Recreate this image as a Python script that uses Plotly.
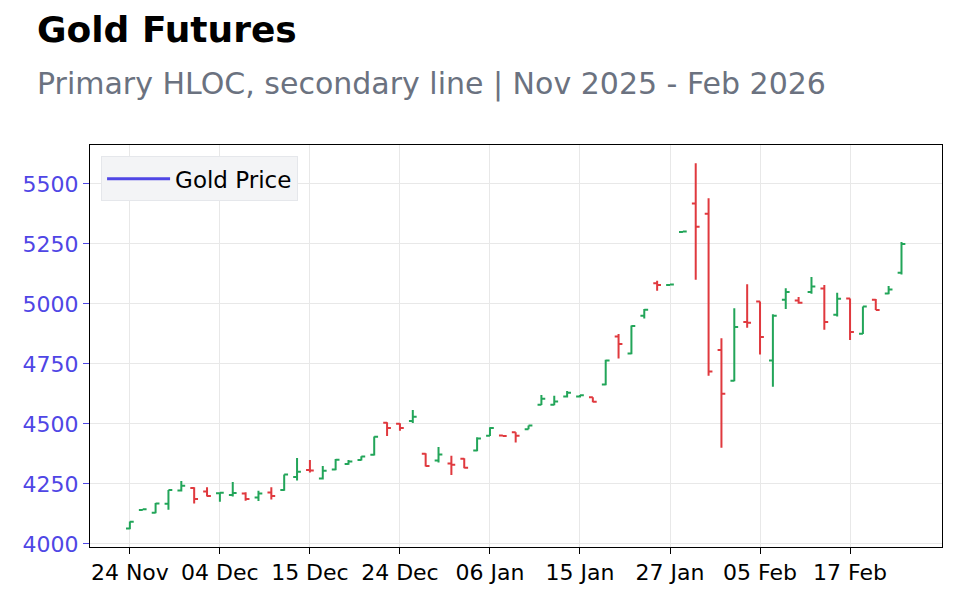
import plotly.graph_objects as go

dates = ["24 Nov", "25 Nov", "26 Nov", "28 Nov", "01 Dec", "02 Dec", "03 Dec", "04 Dec", "05 Dec",
         "08 Dec", "09 Dec", "10 Dec", "11 Dec", "12 Dec", "15 Dec", "16 Dec", "17 Dec", "18 Dec",
         "19 Dec", "22 Dec", "23 Dec", "24 Dec", "26 Dec", "29 Dec", "30 Dec", "31 Dec", "02 Jan",
         "05 Jan", "06 Jan", "07 Jan", "08 Jan", "09 Jan", "12 Jan", "13 Jan", "14 Jan", "15 Jan",
         "16 Jan", "20 Jan", "21 Jan", "22 Jan", "23 Jan", "26 Jan", "27 Jan", "28 Jan", "29 Jan",
         "30 Jan", "02 Feb", "03 Feb", "04 Feb", "05 Feb", "06 Feb", "09 Feb", "10 Feb", "11 Feb",
         "12 Feb", "13 Feb", "17 Feb", "18 Feb", "19 Feb", "20 Feb", "23 Feb"]

open_ = [4064, 4141, 4130, 4167, 4222, 4233, 4218, 4211, 4204, 4210, 4193, 4214, 4225, 4279, 4308,
         4272, 4310, 4333, 4350, 4371, 4505, 4501, 4512, 4376, 4347, 4335, 4355, 4389, 4451, 4452,
         4465, 4478, 4580, 4580, 4614, 4614, 4611, 4664, 4864, 4793, 4951, 5086, 5079, 5300, 5418,
         5376, 4808, 4680, 4925, 5010, 4764, 5017, 5014, 5050, 5064, 4955, 5022, 4876, 5017, 5043, 5130]
high = [4093, 4145, 4170, 4225, 4262, 4236, 4236, 4214, 4258, 4215, 4221, 4236, 4289, 4358, 4350,
        4325, 4354, 4350, 4365, 4447, 4507, 4503, 4558, 4378, 4404, 4367, 4357, 4444, 4486, 4453,
        4465, 4493, 4620, 4617, 4637, 4620, 4611, 4767, 4875, 4910, 4979, 5096, 5082, 5303, 5586,
        5440, 4857, 4982, 5082, 5010, 4957, 5065, 5029, 5112, 5079, 5046, 5022, 4989, 5020, 5075, 5258]
low = [4061, 4140, 4128, 4142, 4218, 4168, 4197, 4176, 4197, 4180, 4179, 4185, 4221, 4264, 4297,
       4268, 4307, 4330, 4347, 4368, 4450, 4471, 4504, 4322, 4339, 4287, 4315, 4386, 4449, 4449,
       4422, 4478, 4579, 4578, 4610, 4610, 4590, 4661, 4772, 4790, 4939, 5055, 5078, 5299, 5101,
       4701, 4401, 4678, 4901, 4789, 4655, 4979, 5001, 5042, 4892, 4947, 4850, 4874, 4974, 5040, 5122]
close = [4092, 4144, 4168, 4224, 4242, 4187, 4200, 4213, 4212, 4187, 4210, 4200, 4289, 4301, 4306,
         4305, 4351, 4343, 4364, 4446, 4483, 4483, 4530, 4325, 4372, 4330, 4317, 4439, 4483, 4450,
         4451, 4493, 4605, 4593, 4630, 4619, 4592, 4764, 4833, 4908, 4976, 5079, 5081, 5302, 5321,
         4718, 4626, 4904, 4921, 4862, 4951, 5050, 5005, 5072, 4925, 5021, 4883, 4989, 4975, 5060, 5250]

tick_labels = ["24 Nov", "04 Dec", "15 Dec", "24 Dec", "06 Jan", "15 Jan", "27 Jan", "05 Feb", "17 Feb"]
y_ticks = [4000, 4250, 4500, 4750, 5000, 5250, 5500]

TITLE = "Gold Futures"
SUBTITLE = "Primary HLOC, secondary line | Nov 2025 - Feb 2026"
PURPLE = "#4F46E5"

fig = go.Figure()
fig.add_trace(go.Ohlc(
    x=dates, open=open_, high=high, low=low, close=close,
    name="Gold Futures", showlegend=False,
    increasing=dict(line=dict(color="#22a559", width=2)),
    decreasing=dict(line=dict(color="#e0393e", width=2)),
))
fig.add_trace(go.Scatter(
    x=[None], y=[None], mode="lines", name="Gold Price",
    line=dict(color=PURPLE, width=3),
))

fig.update_layout(
    width=960, height=600,
    paper_bgcolor="white", plot_bgcolor="white",
    font=dict(family="DejaVu Sans", size=22, color="black"),
    margin=dict(l=90, r=18, t=145, b=53),
    showlegend=True,
    legend=dict(x=0.013, y=0.972, xanchor="left", yanchor="top",
                bgcolor="#F3F4F6", bordercolor="#E5E7EB", borderwidth=1,
                itemwidth=63, font=dict(size=23)),
    annotations=[
        dict(text="<b>" + TITLE + "</b>", xref="paper", yref="paper",
             x=-0.064, y=1.287, xanchor="left", yanchor="middle", showarrow=False,
             font=dict(size=36, color="black")),
        dict(text=SUBTITLE, xref="paper", yref="paper",
             x=-0.064, y=1.151, xanchor="left", yanchor="middle", showarrow=False,
             font=dict(size=30, color="#6B7280")),
    ],
    xaxis=dict(
        type="category", categoryorder="array", categoryarray=dates,
        tickmode="array", tickvals=tick_labels, ticktext=tick_labels,
        range=[-3.1, 63.15],
        rangeslider=dict(visible=False),
        showgrid=True, gridcolor="#E8E8E8",
        showline=True, linecolor="black", linewidth=1, mirror=True,
        ticks="outside", ticklen=6, tickcolor="black",
        tickfont=dict(size=22, color="black"),
    ),
    yaxis=dict(
        range=[3987, 5662],
        tickvals=y_ticks,
        showgrid=True, gridcolor="#E8E8E8",
        showline=True, linecolor="black", linewidth=1, mirror=True,
        ticks="outside", ticklen=6, tickcolor=PURPLE,
        tickfont=dict(size=22, color=PURPLE),
        zeroline=False,
    ),
)

fig.write_html("out.html")
